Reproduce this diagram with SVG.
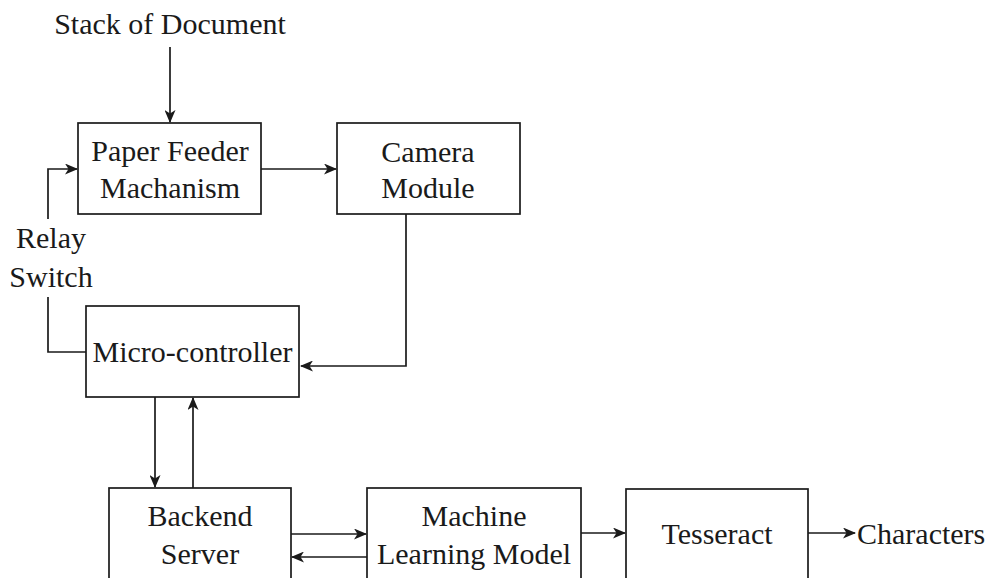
<svg xmlns="http://www.w3.org/2000/svg" width="990" height="578" viewBox="0 0 990 578">
<style>
.box{fill:#fff;stroke:#1a1a1a;stroke-width:1.7}
.t{font-family:"Liberation Serif","Times New Roman",serif;font-size:30px;fill:#1a1a1a;text-anchor:middle}
.c{fill:none;stroke:#1a1a1a;stroke-width:1.7}
</style>
<defs>
<marker id="ah" viewBox="0 0 13 11" refX="12" refY="5.5" markerWidth="13" markerHeight="11" markerUnits="userSpaceOnUse" orient="auto">
<path d="M0,0 L13,5.5 L0,11 L3.5,5.5 z" fill="#1a1a1a"/>
</marker>
</defs>
<rect width="990" height="578" fill="#fff"/>
<g id="connectors">
<path class="c" d="M170,47 V122" marker-end="url(#ah)"/>
<path class="c" d="M261,169 H336" marker-end="url(#ah)"/>
<path class="c" d="M406,214 V366 H301" marker-end="url(#ah)"/>
<path class="c" d="M86,352 H48 V297"/>
<path class="c" d="M48,219 V169 H77" marker-end="url(#ah)"/>
<path class="c" d="M155,397 V487" marker-end="url(#ah)"/>
<path class="c" d="M193,488 V398" marker-end="url(#ah)"/>
<path class="c" d="M291,534 H366" marker-end="url(#ah)"/>
<path class="c" d="M367,557 H292" marker-end="url(#ah)"/>
<path class="c" d="M581,533 H625" marker-end="url(#ah)"/>
<path class="c" d="M808,533 H855" marker-end="url(#ah)"/>
</g>
<g id="stack"><text class="t" x="170" y="34">Stack of Document</text></g>
<g id="paper-feeder">
<rect class="box" x="78" y="123" width="183" height="91"/>
<text class="t" x="170" y="161">Paper Feeder</text>
<text class="t" x="170" y="198">Machanism</text>
</g>
<g id="camera">
<rect class="box" x="337" y="123" width="183" height="91"/>
<text class="t" x="428" y="162">Camera</text>
<text class="t" x="428" y="198">Module</text>
</g>
<g id="relay">
<text class="t" x="51" y="248">Relay</text>
<text class="t" x="51" y="287">Switch</text>
</g>
<g id="micro">
<rect class="box" x="86" y="306" width="213" height="91"/>
<text class="t" x="192.5" y="362">Micro-controller</text>
</g>
<g id="backend">
<rect class="box" x="109" y="488" width="182" height="110"/>
<text class="t" x="200" y="526">Backend</text>
<text class="t" x="200" y="564">Server</text>
</g>
<g id="ml">
<rect class="box" x="367" y="488" width="214" height="110"/>
<text class="t" x="474" y="526">Machine</text>
<text class="t" x="474" y="564">Learning Model</text>
</g>
<g id="tesseract">
<rect class="box" x="626" y="489" width="182" height="110"/>
<text class="t" x="717" y="544">Tesseract</text>
</g>
<g id="characters"><text class="t" x="857" y="544" style="text-anchor:start">Characters</text></g>
</svg>
